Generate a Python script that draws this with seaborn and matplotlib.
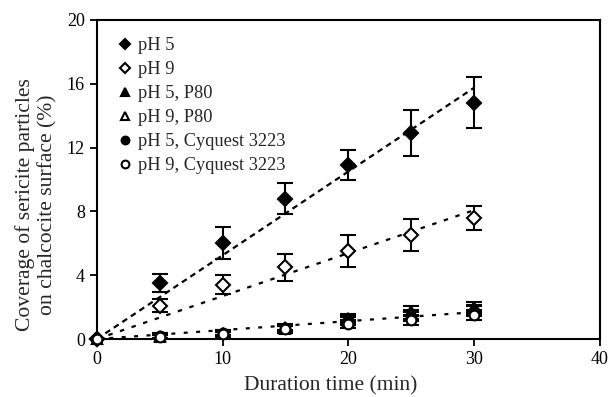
import numpy as np
import pandas as pd
import matplotlib
matplotlib.use("Agg")
import matplotlib.pyplot as plt
import seaborn as sns

# durations (min)
time = [0, 5, 10, 15, 20, 25, 30]

# coverage (%) and error bars
ph5 = [0, 3.5, 6.0, 8.8, 10.9, 12.9, 14.8]
ph5_err = [0, 0.55, 1.0, 0.95, 0.95, 1.45, 1.6]
ph9 = [0, 2.1, 3.4, 4.5, 5.5, 6.5, 7.6]
ph9_err = [0, 0.4, 0.6, 0.85, 1.0, 1.0, 0.75]
ph5_p80 = [0, 0.2, 0.4, 0.75, 1.3, 1.75, 2.0]
ph9_p80 = [0, 0.15, 0.35, 0.6, 1.15, 1.55, 1.85]
ph5_cyq = [0, 0.2, 0.4, 0.7, 1.2, 1.4, 1.75]
ph9_cyq = [0, 0.1, 0.3, 0.6, 0.95, 1.2, 1.5]
low_err = [0, 0.15, 0.15, 0.2, 0.25, 0.3, 0.3]

labels = ["pH 5", "pH 9", "pH 5, P80", "pH 9, P80",
          "pH 5, Cyquest 3223", "pH 9, Cyquest 3223"]

sns.set_style("ticks")
plt.rcParams["font.family"] = ["Liberation Serif", "DejaVu Serif"]

fig = plt.figure(figsize=(6.09, 3.97), dpi=100)
ax = fig.add_axes([0.159, 0.146, 0.826, 0.804])

x = np.array(time, dtype=float)


def fit_origin(y):
    y = np.asarray(y, dtype=float)
    return (x * y).sum() / (x * x).sum() * x


# trend lines
low_mean = np.mean([ph5_p80, ph9_p80, ph5_cyq, ph9_cyq], axis=0)
trend = pd.DataFrame({
    "time": np.concatenate([x, x, x]),
    "fit": np.concatenate([fit_origin(ph5), fit_origin(ph9), fit_origin(low_mean)]),
    "group": ["a"] * 7 + ["b"] * 7 + ["c"] * 7,
})
styles = {"a": (0, (2.6, 2.0)), "b": (0, (2.0, 3.5)), "c": (0, (1.8, 3.8))}
for g, d in trend.groupby("group"):
    sns.lineplot(data=d, x="time", y="fit", ax=ax, color="black",
                 linewidth=1.6, linestyle=styles[g], legend=False)

series = [
    (ph5, ph5_err, "D", "black", 7),
    (ph9, ph9_err, "D", "white", 7),
    (ph5_p80, low_err, "^", "black", 7.5),
    (ph9_p80, low_err, "^", "white", 7.5),
    (ph5_cyq, low_err, "o", "black", 7),
    (ph9_cyq, low_err, "o", "white", 7),
]
handles = []
for (vals, err, mk, fc, ms), lab in zip(series, labels):
    ax.errorbar(time, vals, yerr=err, fmt="none", ecolor="black",
                elinewidth=1.5, capsize=5.5, capthick=1.5, zorder=3)
    h, = ax.plot(time, vals, linestyle="none", marker=mk, markersize=ms,
                 markerfacecolor=fc, markeredgecolor="black",
                 markeredgewidth=1.5, zorder=4, label=lab, clip_on=False)
    handles.append(h)

ax.set_xlim(0, 40)
ax.set_ylim(0, 20)
ax.set_xticks([0, 10, 20, 30, 40])
ax.set_yticks([0, 4, 8, 12, 16, 20])
ax.tick_params(labelsize=13, width=1.3, length=5, colors="black")
for s in ax.spines.values():
    s.set_linewidth(1.5)
    s.set_color("black")

ax.set_xlabel("Duration time (min)", fontsize=15.5)
ax.xaxis.set_label_coords(0.465, -0.115)
ax.set_ylabel("Coverage of sericite particles\non chalcocite surface (%)",
              fontsize=15.6, linespacing=1.2)
ax.yaxis.set_label_coords(-0.078, 0.42)

ax.legend(handles=handles, loc="upper left", frameon=False, fontsize=13.2,
          markerscale=0.8, handlelength=0.6, handletextpad=0.4,
          labelspacing=0.38, borderaxespad=0.3, bbox_to_anchor=(0.02, 0.985))

fig.savefig("out.png", dpi=100)
